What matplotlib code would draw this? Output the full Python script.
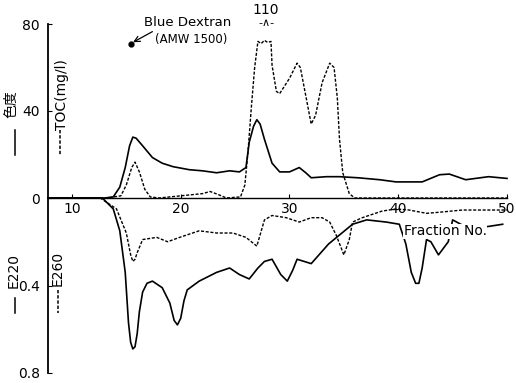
import matplotlib
matplotlib.use('Agg')
from matplotlib import pyplot as plt
from matplotlib.lines import Line2D

plt.rcParams['font.family'] = ['DejaVu Sans', 'Noto Sans CJK JP']

# upper panel: colour (solid) and TOC mg/l (dashed) vs fraction number
color_frac = [7.8, 13.0, 13.8, 14.4, 14.9, 15.3, 15.6, 15.9, 16.5, 17.4, 18.3, 19.3, 20.8,
              22.0, 23.3, 24.5, 25.4, 26.0, 26.3, 26.7, 27.0, 27.3, 27.7, 28.4, 29.1, 30.0,
              30.9, 31.5, 32.0, 33.4, 34.6, 36.3, 38.3, 39.8, 42.2, 43.8, 44.7, 46.2, 48.3, 50.0]
color_val = [0, 0, 0.5, 5, 14, 24, 28, 27.5, 24, 18.6, 16, 14.4, 13,
             12.5, 11.6, 12.5, 12, 14, 25.6, 33, 36, 34, 27, 16, 12, 12,
             14, 11.6, 9.3, 9.8, 9.8, 9.3, 8.4, 7.4, 7.4, 10.7, 11, 8.4, 9.8, 9]

toc_frac = [7.8, 13.2, 14.5, 15.0, 15.5, 15.8, 16.2, 16.7, 17.2, 18.0, 19.0, 20.0, 21.0,
            22.0, 22.7, 23.5, 24.2, 25.5, 25.9, 26.2, 26.5, 26.8, 27.1, 27.4, 27.7, 28.0,
            28.3, 28.4, 28.8, 29.1, 30.0, 30.7, 31.0, 31.5, 32.0, 32.4, 33.0, 33.7, 34.1,
            34.4, 34.6, 34.9, 35.5, 36.0, 50.0]
toc_val = [0, 0, 1, 6, 14, 16.5, 12, 4, 0.5, 0, 0.5, 1, 1.5,
           2, 3, 1.5, 0, 0.5, 6, 22, 42, 60, 72, 71, 72.5, 71.5,
           72, 61, 49, 48, 55, 62, 60, 47, 34, 38, 53, 62, 60,
           46, 27, 11.6, 2, 0, 0]

# lower panel: absorbance E220 (solid) and E260 (dashed), drawn downward
e220_frac = [7.8, 12.8, 13.8, 14.4, 14.9, 15.2, 15.4, 15.6, 15.8, 16.0, 16.2, 16.5, 16.9,
             17.4, 18.3, 19.0, 19.4, 19.7, 20.0, 20.3, 20.6, 21.7, 23.3, 24.5, 25.4, 26.3,
             27.1, 27.7, 28.4, 29.2, 29.8, 30.3, 30.7, 32.0, 33.6, 35.8, 37.1, 38.9, 40.1,
             40.7, 41.2, 41.6, 41.9, 42.2, 42.6, 43.0, 43.7, 44.6, 45.0, 46.5, 48.3, 49.6]
e220_val = [0, 0, 0.05, 0.15, 0.34, 0.57, 0.66, 0.69, 0.68, 0.62, 0.52, 0.43, 0.39,
            0.38, 0.41, 0.48, 0.56, 0.58, 0.55, 0.47, 0.42, 0.38, 0.34, 0.32, 0.35, 0.37,
            0.32, 0.29, 0.28, 0.35, 0.38, 0.33, 0.28, 0.30, 0.21, 0.12, 0.10, 0.11, 0.12,
            0.21, 0.34, 0.39, 0.39, 0.32, 0.19, 0.20, 0.26, 0.20, 0.10, 0.14, 0.13, 0.12]

e260_frac = [7.8, 12.6, 14.1, 15.0, 15.4, 15.6, 15.8, 16.0, 16.5, 17.8, 18.8, 19.9, 21.7,
             23.3, 24.8, 26.0, 27.0, 27.7, 28.4, 29.7, 30.9, 32.0, 33.0, 33.7, 34.3, 35.0,
             35.5, 35.8, 36.7, 38.5, 39.8, 41.0, 42.6, 43.8, 45.9, 48.6, 50.0]
e260_val = [0, 0, 0.05, 0.16, 0.26, 0.29, 0.28, 0.25, 0.19, 0.18, 0.20, 0.18, 0.15,
            0.16, 0.16, 0.18, 0.22, 0.10, 0.08, 0.09, 0.11, 0.09, 0.09, 0.11, 0.17, 0.26,
            0.19, 0.11, 0.09, 0.06, 0.05, 0.055, 0.07, 0.065, 0.055, 0.055, 0.055]

dextran_frac = 15.4
dextran_val = 71

x_ticks = [10, 20, 30, 40, 50]
top_ticks = [0, 40, 80]
bot_ticks = [0.4, 0.8]
bot_labels = ['0.4', '0.8']

W, H = 516, 383
DASH = (0, (2.2, 1.2))


def fx(px):
    return px / W


def fy(py):
    return 1 - py / H


def main():
    fig = plt.figure(figsize=(W / 100, H / 100), dpi=100)
    ax_top = fig.add_axes([fx(48), fy(198), (507 - 48) / W, (198 - 24) / H])
    ax_bot = fig.add_axes([fx(48), fy(373), (507 - 48) / W, (373 - 198) / H], sharex=ax_top)
    for ax in (ax_top, ax_bot):
        ax.set_facecolor('none')
        ax.spines['right'].set_visible(False)
        ax.spines['top'].set_visible(False)
        ax.spines['left'].set_linewidth(1.3)
    ax_bot.spines['bottom'].set_visible(False)
    ax_top.spines['bottom'].set_linewidth(1.0)

    ax_top.set_xlim(7.8, 50)
    ax_top.set_ylim(0, 80)
    ax_bot.set_ylim(0.8, 0)

    ax_top.plot(color_frac, color_val, color='black', lw=1.2, clip_on=False)
    ax_top.plot(toc_frac, toc_val, color='black', lw=1.0, ls=DASH, clip_on=False)
    ax_bot.plot(e220_frac, e220_val, color='black', lw=1.2, clip_on=False)
    ax_bot.plot(e260_frac, e260_val, color='black', lw=1.0, ls=DASH, clip_on=False)

    ax_top.set_xticks(x_ticks)
    ax_top.tick_params(axis='x', direction='in', length=3, labelsize=10, pad=3)
    ax_top.set_yticks(top_ticks)
    ax_top.tick_params(axis='y', direction='in', length=3, labelsize=10, pad=6)
    ax_bot.tick_params(axis='x', bottom=False, labelbottom=False)
    ax_bot.set_yticks(bot_ticks)
    ax_bot.set_yticklabels(bot_labels)
    ax_bot.tick_params(axis='y', direction='in', length=3, labelsize=10, pad=6)

    # Blue Dextran marker
    ax_top.plot([dextran_frac], [dextran_val], 'o', color='black', ms=3.5, clip_on=False)
    ax_top.annotate('', xy=(dextran_frac, dextran_val), xytext=(17.4, 76.5),
                    arrowprops=dict(arrowstyle='->', lw=0.9, color='black', shrinkA=0, shrinkB=2))
    ax_top.text(20.6, 80.5, 'Blue Dextran', fontsize=9.5, ha='center', va='center')
    ax_top.text(21.0, 73, '(AMW 1500)', fontsize=8.5, ha='center', va='center')

    # truncated TOC peak
    ax_top.text(27.8, 86.5, '110', fontsize=10, ha='center', va='center')
    ax_top.text(27.9, 80.6, '-∧-', fontsize=8, ha='center', va='center')

    ax_bot.text(44.3, 0.152, 'Fraction No.', fontsize=10, ha='center', va='center',
                bbox=dict(facecolor='white', edgecolor='none', pad=0.3))

    # axis labels with line keys
    fig.text(fx(11), fy(104), '色度', rotation=90, fontsize=10, ha='center', va='center',
             family=['Noto Sans CJK JP', 'DejaVu Sans'])
    fig.text(fx(62), fy(95), 'TOC(mg/l)', rotation=90, fontsize=10, ha='center', va='center')
    fig.text(fx(14), fy(270), 'E220', rotation=90, fontsize=10, ha='center', va='center')
    fig.text(fx(58), fy(268), 'E260', rotation=90, fontsize=10, ha='center', va='center')
    keys = [(15, 130, 155, '-'), (60, 130, 155, DASH), (15, 298, 313, '-'), (58, 290, 313, DASH)]
    for kx, y0, y1, style in keys:
        fig.add_artist(Line2D([fx(kx), fx(kx)], [fy(y0), fy(y1)], transform=fig.transFigure,
                              color='black', lw=1.1, ls=style))

    fig.savefig('out.png', dpi=100)


if __name__ == '__main__':
    main()
